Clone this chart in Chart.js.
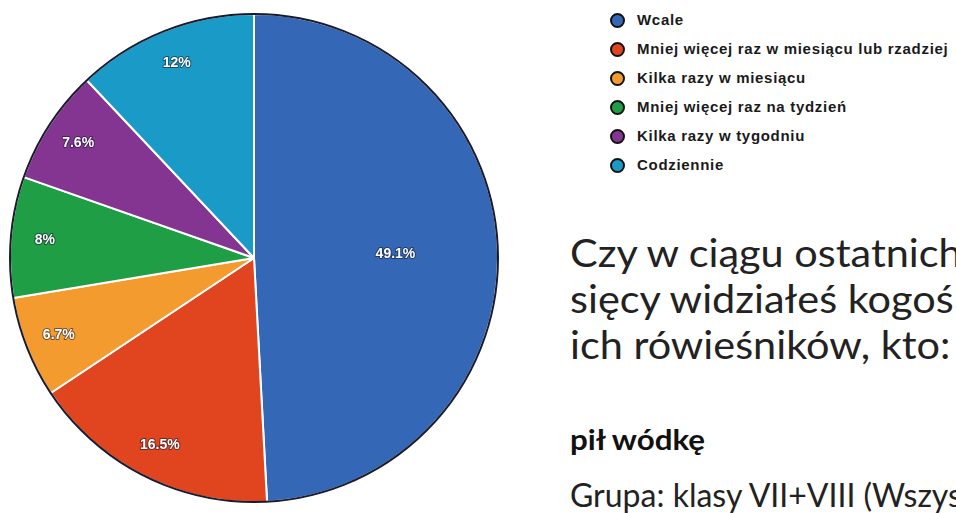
<!DOCTYPE html>
<html><head><meta charset="utf-8">
<script src="https://cdn.jsdelivr.net/npm/chart.js@4"></script>
<style>
html,body{margin:0;padding:0;background:#fff;overflow:hidden;width:956px;height:513px;}
#wrap{position:absolute;left:9px;top:13px;width:490px;height:490px;}
#legend{position:absolute;left:609px;top:11px;font:bold 15px Arial, "Liberation Sans", sans-serif;letter-spacing:0.7px;color:#1a1a1a;}
.li{position:relative;height:29px;line-height:18px;white-space:nowrap;}
.dot{position:absolute;left:1px;top:2px;width:11px;height:11px;border-radius:50%;border:2px solid #111;}
.lt{position:absolute;left:28px;top:0;}
.title{position:absolute;left:570px;top:229px;font:38px Lato, sans-serif;line-height:46px;color:#222;white-space:nowrap;transform:scaleX(1.09);transform-origin:0 0;}
.sub{position:absolute;left:570px;top:421px;font:bold 29px Lato, sans-serif;color:#111;white-space:nowrap;transform:scaleX(1.08);transform-origin:0 0;}
.grp{position:absolute;left:570px;top:475px;font:32px Lato, sans-serif;color:#222;white-space:nowrap;}
</style></head>
<body>
<div id="wrap"><canvas id="c"></canvas></div>
<div id="legend"></div>
<div class="title">Czy w ciągu ostatnich<br>sięcy widziałeś kogoś<br>ich rówieśników, kto:</div>
<div class="sub">pił wódkę</div>
<div class="grp">Grupa: klasy VII+VIII (Wszyscy)</div>
<script>
const categories = ["Wcale","Mniej więcej raz w miesiącu lub rzadziej","Kilka razy w miesiącu","Mniej więcej raz na tydzień","Kilka razy w tygodniu","Codziennie"];
const values = [49.1, 16.5, 6.7, 8, 7.6, 12];
const colors = ["#3467b5","#e0451f","#f39b2f","#1f9e46","#843592","#1a9ac7"];

const lg = document.getElementById('legend');
categories.forEach((c,i)=>{
  const d=document.createElement('div');d.className='li';
  d.innerHTML='<span class="dot" style="background:'+colors[i]+'"></span><span class="lt">'+c+'</span>';
  lg.appendChild(d);
});

const decor = {
  id:'decor',
  afterDatasetsDraw(chart){
    const ctx=chart.ctx;
    const meta=chart.getDatasetMeta(0);
    const a0=meta.data[0];
    ctx.save();
    ctx.beginPath();
    ctx.arc(a0.x,a0.y,a0.outerRadius,0,Math.PI*2);
    ctx.strokeStyle='#1b1b2e';ctx.lineWidth=2;ctx.stroke();
    ctx.font='bold 14px Arial, "Liberation Sans", sans-serif';
    ctx.textAlign='center';ctx.textBaseline='middle';
    meta.data.forEach((arc,i)=>{
      const v=values[i];
      const mid=(arc.startAngle+arc.endAngle)/2;
      const f=v>30?0.58:0.86;
      const x=arc.x+Math.cos(mid)*arc.outerRadius*f;
      const y=arc.y+Math.sin(mid)*arc.outerRadius*f;
      const t=v+'%';
      ctx.lineWidth=2;ctx.strokeStyle='rgba(20,20,40,0.55)';ctx.lineJoin='round';
      ctx.strokeText(t,x,y);
      ctx.fillStyle='#fff';ctx.fillText(t,x,y);
    });
    ctx.restore();
  }
};

new Chart(document.getElementById('c'),{
  type:'pie',
  data:{labels:categories,datasets:[{data:values,backgroundColor:colors,borderColor:'#ffffff',borderWidth:2,hoverOffset:0}]},
  options:{responsive:true,maintainAspectRatio:false,animation:false,
    layout:{padding:0},
    plugins:{legend:{display:false},tooltip:{enabled:false}}},
  plugins:[decor]
});
</script>
</body></html>
